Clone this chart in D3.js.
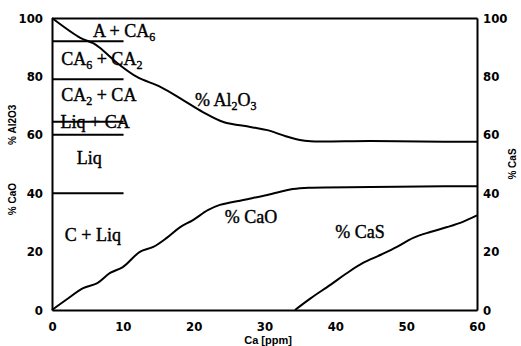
<!DOCTYPE html>
<html>
<head>
<meta charset="utf-8">
<script src="https://cdn.jsdelivr.net/npm/d3@7"></script>
<style>
  body { margin: 0; background: #fff; }
  .tick text { font-family: "Liberation Sans Narrow", "DejaVu Sans Condensed", sans-serif; font-weight: bold; font-size: 13px; }
</style>
</head>
<body>
<div id="chart"></div>
<script>
// Ca [ppm] vs %
const al2o3 = [[0, 100], [4, 93.2], [5.8, 91.4], [6.8, 89.7], [9.2, 84.6], [12, 79.8], [15.3, 76.4], [18.5, 71.9],
  [21.3, 67.8], [24.2, 64.4], [28, 62.7], [30.4, 61.6], [33, 59.5], [35, 58.2], [36.5, 57.8], [45, 57.9], [52, 57.7], [60, 57.6]];
const cao = [[0, 0], [2, 3.5], [4.4, 7.5], [6.4, 9.2], [8.2, 12.7], [10, 14.7], [12.4, 19.9], [14.3, 21.6], [16.2, 24.7],
  [18.1, 28.4], [19.9, 30.8], [22, 34.2], [23.7, 36], [27, 37.7], [30.4, 39.4], [34, 41.4], [36.4, 41.9], [45, 42.1], [52, 42.3], [60, 42.4]];
const cas = [[34.3, 0], [36.5, 4], [39.3, 8.6], [41.5, 12.4], [43.9, 16.1], [46.5, 19], [48.7, 21.6], [51, 24.7],
  [53.4, 26.7], [55.8, 28.4], [58, 30.2], [60, 32.4]];

// phase boundaries (Ca 0..10)
const phaseLines = [92, 79, 64.5, 60, 40];
const phaseLabels = [
  { parts: [["A + CA"], ["6", "sub"]], x: 5.8, y: 93.5 },
  { parts: [["CA"], ["6", "sub"], [" + CA"], ["2", "sub"]], x: 1.3, y: 83.9 },
  { parts: [["CA"], ["2", "sub"], [" + CA"]], x: 1.3, y: 71.6 },
  { parts: [["Liq + CA"]], x: 1.2, y: 62.3 },
  { parts: [["Liq"]], x: 3.5, y: 50 },
  { parts: [["C + Liq"]], x: 1.8, y: 23.6 },
  { parts: [["% Al"], ["2", "sub"], ["O"], ["3", "sub"]], x: 20.2, y: 69.9 },
  { parts: [["% CaO"]], x: 24.4, y: 29.8 },
  { parts: [["% CaS"]], x: 40, y: 24.7 }
];

const xTicks = [0, 10, 20, 30, 40, 50, 60];
const yTicks = [0, 20, 40, 60, 80, 100];

const width = 521, height = 346;
const margin = { top: 18, right: 44, bottom: 36, left: 52 };

const svg = d3.select("#chart").append("svg")
  .attr("width", width)
  .attr("height", height);

const x = d3.scaleLinear().domain([0, 60]).range([margin.left, width - margin.right]);
const y = d3.scaleLinear().domain([0, 100]).range([height - margin.bottom, margin.top]);

// axes, no tick marks
svg.append("g")
  .attr("transform", `translate(0,${y(0)})`)
  .call(d3.axisBottom(x).tickValues(xTicks).tickSize(0).tickPadding(12));
svg.append("g")
  .attr("transform", `translate(${x(0)},0)`)
  .call(d3.axisLeft(y).tickValues(yTicks).tickSize(0).tickPadding(9));
svg.append("g")
  .attr("transform", `translate(${x(60)},0)`)
  .call(d3.axisRight(y).tickValues(yTicks).tickSize(0).tickPadding(6));
svg.append("g")
  .attr("transform", `translate(0,${y(100)})`)
  .call(d3.axisTop(x).tickValues([]).tickSize(0));

svg.selectAll(".domain").attr("stroke", "#000").attr("stroke-width", 2);

// axis titles
const titleFont = "'Liberation Sans', Arial, sans-serif";
svg.append("text")
  .attr("transform", `translate(16,${y(60) - 10}) rotate(-90)`)
  .attr("text-anchor", "middle")
  .style("font-family", titleFont).style("font-size", "10px").style("font-weight", "bold")
  .text("% Al2O3");
svg.append("text")
  .attr("transform", `translate(16,${y(38)}) rotate(-90)`)
  .attr("text-anchor", "middle")
  .style("font-family", titleFont).style("font-size", "10px").style("font-weight", "bold")
  .text("% CaO");
svg.append("text")
  .attr("transform", `translate(516,${y(50)}) rotate(-90)`)
  .attr("text-anchor", "middle")
  .style("font-family", titleFont).style("font-size", "10px").style("font-weight", "bold")
  .text("% CaS");
svg.append("text")
  .attr("x", x(30.5))
  .attr("y", height - 2)
  .attr("text-anchor", "middle")
  .style("font-family", titleFont).style("font-size", "11px").style("font-weight", "bold")
  .text("Ca [ppm]");

// phase boundary lines
svg.selectAll(".phase")
  .data(phaseLines)
  .enter()
  .append("line")
  .attr("x1", x(0))
  .attr("x2", x(10.1))
  .attr("y1", d => y(d))
  .attr("y2", d => y(d))
  .attr("stroke", "#000")
  .attr("stroke-width", 2);

// curves
const line = d3.line().x(d => x(d[0])).y(d => y(d[1])).curve(d3.curveCatmullRom);
[al2o3, cao, cas].forEach(s => {
  svg.append("path")
    .datum(s)
    .attr("d", line)
    .attr("fill", "none")
    .attr("stroke", "#000")
    .attr("stroke-width", 2);
});

// labels
phaseLabels.forEach(l => {
  const t = svg.append("text")
    .attr("x", x(l.x))
    .attr("y", y(l.y))
    .attr("stroke", "#000")
    .attr("stroke-width", 0.4)
    .style("font-family", "'Liberation Serif', 'Times New Roman', serif")
    .style("font-size", "18px");
  let wasSub = false;
  l.parts.forEach(p => {
    const ts = t.append("tspan").text(p[0]);
    if (p[1] === "sub") {
      ts.style("font-size", "12px").attr("dy", 4);
      wasSub = true;
    } else if (wasSub) {
      ts.attr("dy", -4);
      wasSub = false;
    }
  });
});
</script>
</body>
</html>
